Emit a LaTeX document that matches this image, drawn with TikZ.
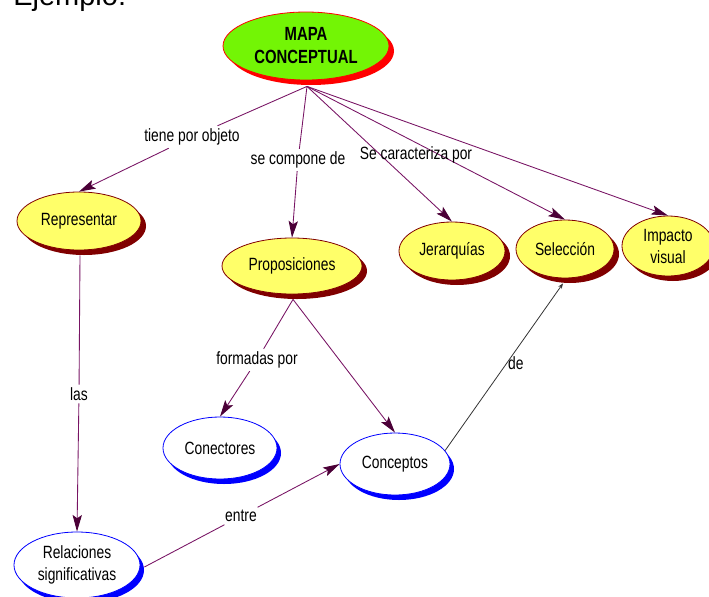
\documentclass[tikz,border=0pt]{standalone}
\usepackage{fontspec}
\setmainfont{Liberation Sans}[FakeStretch=0.78]
\newfontfamily\plainsans{Liberation Sans}
\usetikzlibrary{shapes.geometric,arrows.meta,shadows,calc}
\definecolor{linec}{RGB}{120,20,100}
\definecolor{arrowc}{RGB}{75,0,55}
\definecolor{darkred}{RGB}{128,0,0}
\definecolor{yellowc}{RGB}{255,255,105}
\definecolor{greenc}{RGB}{115,245,5}
\definecolor{bluec}{RGB}{0,0,255}
\begin{document}
\begin{tikzpicture}[x=0.75pt,y=-0.75pt,
  concept/.style={ellipse, inner sep=0pt, align=center,
    font=\fontsize{13.3}{16.5}\selectfont, line width=0.6pt},
  yel/.style={concept, draw=darkred, fill=yellowc,
    general shadow={fill=darkred, shadow xshift=3.75pt, shadow yshift=-3.75pt}},
  blu/.style={concept, draw=bluec, fill=white,
    general shadow={fill=bluec, shadow xshift=3pt, shadow yshift=-3.75pt}},
  top/.style={concept, draw=red, fill=greenc,
    font=\bfseries\fontsize{14.3}{17.25}\selectfont,
    general shadow={fill=red, shadow xshift=3.75pt, shadow yshift=-3.75pt}},
  lbl/.style={inner sep=2pt, font=\fontsize{13.3}{16.5}\selectfont},
  conn/.style={draw=linec, line width=0.65pt},
  arr/.style={conn, -{Stealth[length=12.5pt,width=7pt,inset=2.5pt,color=arrowc]}},
  thin/.style={draw=black!80, line width=0.6pt, -{Stealth[length=4pt,width=3pt]}}
]
\useasboundingbox (0,0) rectangle (709,596);

% title (cut by the page top)
\node[anchor=base west, inner sep=0pt, font=\plainsans\fontsize{21.75}{26}\selectfont] (ej) at (13,5) {Ejemplo:};

% concepts
\node[top, minimum width=124.5pt, minimum height=51pt] (mapa) at (306,46) {MAPA\\CONCEPTUAL};
\node[yel, minimum width=93pt, minimum height=43.5pt] (rep) at (79,221) {Representar};
\node[yel, minimum width=105pt, minimum height=42pt] (prop) at (292,266) {Proposiciones};
\node[yel, minimum width=79.5pt, minimum height=43.5pt] (jer) at (452,251) {Jerarquías};
\node[yel, minimum width=73.5pt, minimum height=43.5pt] (sel) at (565,249) {Selección};
\node[yel, minimum width=69pt, minimum height=45pt] (imp) at (668,246) {Impacto\\visual};
\node[blu, minimum width=85.5pt, minimum height=46.5pt] (con) at (220,448) {Conectores};
\node[blu, minimum width=82.5pt, minimum height=46.5pt] (cpt) at (395,464) {Conceptos};
\node[blu, minimum width=94.5pt, minimum height=49.5pt] (rel) at (77,565) {Relaciones\\significativas};

% anchor points under the shadows
\coordinate (mapab) at ($(mapa.south)+(1,6)$);
\coordinate (repb) at ($(rep.south)+(1,5)$);
\coordinate (propb) at ($(prop.south)+(1,5)$);
\coordinate (rele) at ($(rel.east)+(4,2)$);
\coordinate (selb) at ($(sel.south)+(-2,5)$);

% linking phrases
\node[lbl] (l1) at (192,137) {tiene por objeto};
\node[lbl] (l2) at (298,160) {se compone de};
\node[lbl] (l4) at (79,394) {las};
\node[lbl] (l5) at (257,360) {formadas por};
\node[lbl] (l6) at (241,516) {entre};

% connectors
\draw[conn] (mapab) -- (l1);
\draw[arr] (l1) -- (rep.north);
\draw[conn] (mapab) -- (l2);
\draw[arr] (l2) -- (prop.north);
\draw[arr] (mapab) -- (jer.north);
\draw[arr] (mapab) -- (sel.north);
\draw[arr] (mapab) -- (imp.north);
\draw[conn] (repb) -- (l4);
\draw[arr] (l4) -- (rel.north);
\draw[conn] (propb) -- (l5);
\draw[arr] (l5) -- (con.north);
\draw[arr] (propb) -- (cpt.north);
\draw[conn] (rele) -- (l6);
\draw[arr] (l6) -- (cpt.west);
\draw[thin] (cpt.15) -- node[lbl, pos=0.52, anchor=west, inner sep=1pt] (l7) {de} (selb);

\node[lbl] (l3) at (416,155) {Se caracteriza por};
\end{tikzpicture}
\end{document}
